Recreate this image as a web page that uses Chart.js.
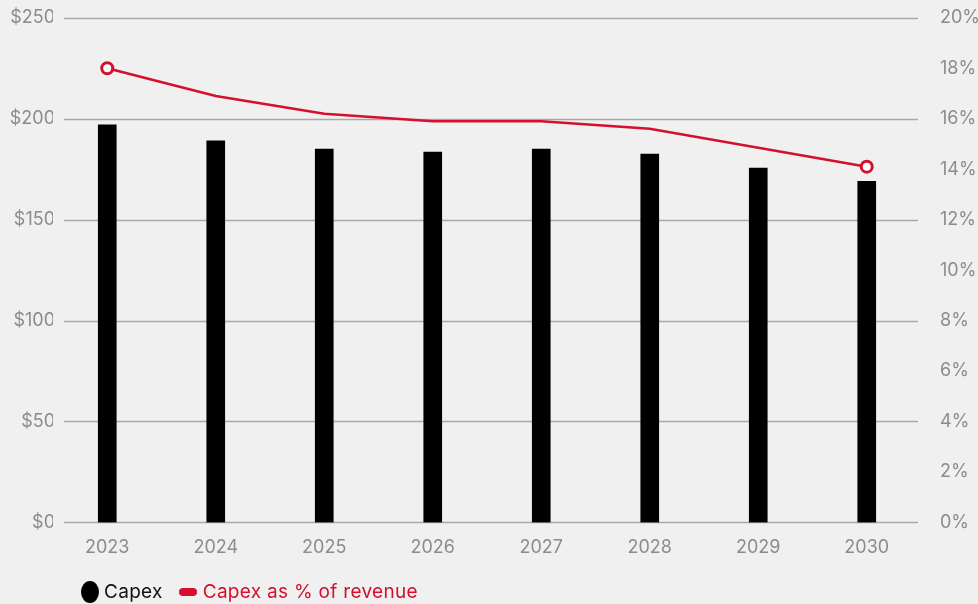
<!DOCTYPE html>
<html>
<head>
<meta charset="utf-8">
<script src="https://cdn.jsdelivr.net/npm/chart.js@4.4.1/dist/chart.umd.min.js"></script>
<style>
  html, body { margin: 0; padding: 0; background: #f0f0f0; overflow: hidden; }
  #wrap { position: relative; width: 978px; height: 604px; overflow: hidden; }
  #chart { position: absolute; left: 0; top: -12px; }
  #legend { position: absolute; left: 81px; top: 580px; font: 19px Inter, sans-serif; letter-spacing: 0.3px; display: flex; align-items: center; }
  .dot { display: inline-block; width: 18px; height: 22px; border-radius: 50%; background: #000; margin-right: 5px; }
  .pill { display: inline-block; width: 18px; height: 8px; border-radius: 4px; background: #d50f2d; margin-left: 16px; margin-right: 6px; }
</style>
</head>
<body>
<div id="wrap">
  <canvas id="chart" width="978" height="616"></canvas>
  <div id="legend">
    <span class="dot"></span><span style="color:#111">Capex</span>
    <span class="pill"></span><span style="color:#d50f2d">Capex as % of revenue</span>
  </div>
</div>
<script>
// chart data
const years = ['2023', '2024', '2025', '2026', '2027', '2028', '2029', '2030'];
const capex = [197, 189, 185, 183.5, 185, 182.5, 175.5, 169];
const capexPct = [18.0, 16.9, 16.2, 15.9, 15.9, 15.6, 14.85, 14.1];

const grey = '#8c8c8c';
const red = '#d50f2d';
const tickFont = { family: 'Inter', size: 18 };

// horizontal grid lines on the $ ticks, slightly inset from the category area
const gridPlugin = {
    id: 'insetGrid',
    beforeDatasetsDraw(chart) {
        const { ctx, chartArea, scales } = chart;
        ctx.save();
        ctx.strokeStyle = '#a9a9a9';
        ctx.lineWidth = 1.5;
        scales.y.ticks.forEach(t => {
            const y = Math.round(scales.y.getPixelForValue(t.value)) + 0.5;
            ctx.beginPath();
            ctx.moveTo(chartArea.left + 11, y);
            ctx.lineTo(chartArea.right - 3, y);
            ctx.stroke();
        });
        ctx.restore();
    }
};

const lastIdx = years.length - 1;
const endPoint = (v) => (c) => (c.dataIndex === 0 || c.dataIndex === lastIdx) ? v : 0;

new Chart(document.getElementById('chart'), {
    data: {
        labels: years,
        datasets: [
            {
                type: 'line',
                label: 'Capex as % of revenue',
                data: capexPct,
                yAxisID: 'y1',
                borderColor: red,
                borderWidth: 2.5,
                tension: 0,
                pointRadius: endPoint(5.5),
                pointHoverRadius: endPoint(5.5),
                pointBorderWidth: 3,
                pointBackgroundColor: '#ffffff',
                pointBorderColor: red,
                order: 0
            },
            {
                type: 'bar',
                label: 'Capex',
                data: capex,
                yAxisID: 'y',
                backgroundColor: '#000000',
                barThickness: 18,
                order: 1
            }
        ]
    },
    options: {
        responsive: false,
        animation: false,
        layout: { padding: { top: 0, bottom: 40, left: 0, right: 0 } },
        plugins: {
            legend: { display: false },
            tooltip: { enabled: false }
        },
        scales: {
            x: {
                grid: { display: false },
                border: { display: false },
                ticks: { color: grey, font: tickFont, padding: 6 }
            },
            y: {
                position: 'left',
                min: 0,
                max: 250,
                afterFit: (s) => { s.width = 53; },
                grid: { display: false, drawTicks: false },
                border: { display: false },
                ticks: {
                    stepSize: 50,
                    padding: -2,
                    color: grey,
                    font: tickFont,
                    callback: (v) => '$' + v
                }
            },
            y1: {
                position: 'right',
                min: 0,
                max: 20,
                afterFit: (s) => { s.width = 57; },
                grid: { display: false, drawTicks: false },
                border: { display: false },
                ticks: {
                    stepSize: 2,
                    padding: 19,
                    color: grey,
                    font: tickFont,
                    callback: (v) => v + '%'
                }
            }
        }
    },
    plugins: [gridPlugin]
});
</script>
</body>
</html>
